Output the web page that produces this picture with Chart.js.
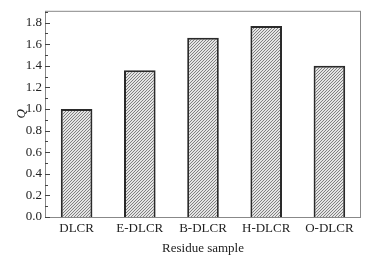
<!DOCTYPE html>
<html lang="en">
<head>
    <meta charset="UTF-8">
    <title>Residue sample Q</title>
    <script src="https://cdn.jsdelivr.net/npm/chart.js"></script>
    <style>
        html, body { margin: 0; padding: 0; background: #fff; }
        .chart-box { width: 379px; height: 260px; }
    </style>
</head>
<body>
    <div class="chart-box">
        <canvas id="qChart"></canvas>
    </div>

    <script>
        // Data
        const samples = ['DLCR', 'E-DLCR', 'B-DLCR', 'H-DLCR', 'O-DLCR'];
        const qValues = [1.00, 1.36, 1.66, 1.77, 1.40];
        const yTicks = [0.0, 0.2, 0.4, 0.6, 0.8, 1.0, 1.2, 1.4, 1.6, 1.8];

        const FONT = '"Liberation Serif", "Times New Roman", serif';

        // Fine hatch pattern for bars (3px diagonal)
        function makeHatch() {
            const c = document.createElement('canvas');
            c.width = 3; c.height = 3;
            const g = c.getContext('2d');
            g.fillStyle = '#e4e4e4';
            g.fillRect(0, 0, 3, 3);
            g.fillStyle = '#808080';
            g.fillRect(2, 0, 1, 1);
            g.fillRect(1, 1, 1, 1);
            g.fillRect(0, 2, 1, 1);
            return g.createPattern(c, 'repeat');
        }

        // Frame + inward ticks
        const frameTicks = {
            id: 'frameTicks',
            afterDraw(chart) {
                const { ctx, chartArea: a, scales } = chart;
                const y = scales.y;
                ctx.save();
                ctx.strokeStyle = '#888';
                ctx.lineWidth = 1;
                ctx.strokeRect(a.left + 0.5, a.top + 0.5, a.right - a.left - 1, a.bottom - a.top);
                ctx.strokeStyle = '#444';
                ctx.beginPath();
                for (let v = 0; v <= 1.9001; v += 0.1) {
                    const py = Math.round(y.getPixelForValue(v)) + 0.5;
                    const major = Math.round(v * 10) % 2 === 0;
                    ctx.moveTo(a.left, py);
                    ctx.lineTo(a.left + (major ? 5 : 3), py);
                }
                ctx.stroke();
                ctx.restore();
            }
        };

        const ctx = document.getElementById('qChart').getContext('2d');
        new Chart(ctx, {
            type: 'bar',
            data: {
                labels: samples,
                datasets: [{
                    data: qValues,
                    backgroundColor: makeHatch(),
                    borderColor: '#2a2a2a',
                    borderWidth: 2,
                    borderSkipped: 'bottom',
                    barPercentage: 0.5,
                    categoryPercentage: 1.0
                }]
            },
            options: {
                responsive: true,
                maintainAspectRatio: false,
                animation: false,
                layout: { padding: { top: 9, right: 18, left: 0, bottom: 0 } },
                plugins: { legend: { display: false }, tooltip: { enabled: false } },
                scales: {
                    x: {
                        grid: { display: false, drawTicks: false },
                        border: { display: false },
                        ticks: { color: '#222', font: { family: FONT, size: 13 }, padding: 4 },
                        title: { display: true, text: 'Residue sample', color: '#222', font: { family: FONT, size: 13 }, padding: { top: 0, bottom: 4 } },
                        afterFit(s) { s.height = 43; }
                    },
                    y: {
                        min: 0,
                        max: 1.91,
                        afterBuildTicks(s) { s.ticks = yTicks.map(v => ({ value: v })); },
                        grid: { display: false, drawTicks: false },
                        border: { display: false },
                        ticks: {
                            color: '#222',
                            font: { family: FONT, size: 13 },
                            padding: 3,
                            callback: v => Number(v).toFixed(1)
                        },
                        title: { display: true, text: 'Q', color: '#222', font: { family: FONT, size: 13, style: 'italic' }, padding: { top: 14, bottom: 0 } },
                        afterFit(s) { s.width = 45; }
                    }
                }
            },
            plugins: [frameTicks]
        });
    </script>
</body>
</html>
